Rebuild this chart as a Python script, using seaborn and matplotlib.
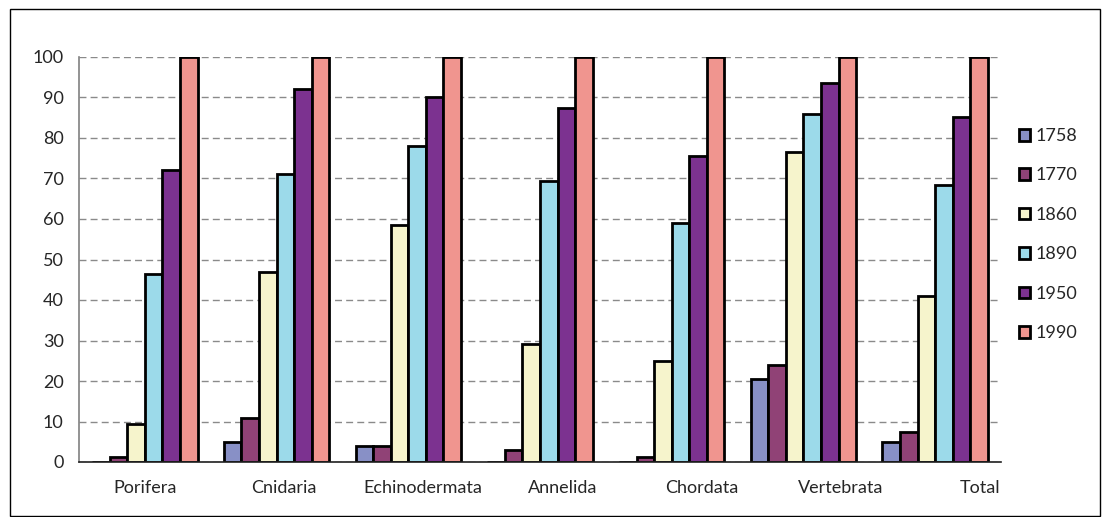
import pandas as pd
import numpy as np
import seaborn as sns
import matplotlib.pyplot as plt
from matplotlib.patches import Rectangle

# data
groups = ['Porifera', 'Cnidaria', 'Echinodermata', 'Annelida', 'Chordata', 'Vertebrata', 'Total']
years = ['1758', '1770', '1860', '1890', '1950', '1990']
v1758 = [0, 5.0, 4.0, 0, 0, 20.5, 4.9]
v1770 = [1.2, 10.9, 4.0, 3.0, 1.2, 24.0, 7.4]
v1860 = [9.3, 47.0, 58.5, 29.1, 25.0, 76.5, 41.0]
v1890 = [46.3, 71.1, 78.0, 69.3, 59.0, 86.0, 68.4]
v1950 = [72.0, 92.1, 90.0, 87.3, 75.5, 93.7, 85.2]
v1990 = [100, 100, 100, 100, 100, 100, 100]
colors = ['#8890C6', '#904276', '#F6F4CC', '#9CDAEA', '#7C3290', '#F0958F']

rows = []
for yr, vals in zip(years, [v1758, v1770, v1860, v1890, v1950, v1990]):
    for g, v in zip(groups, vals):
        rows.append({'group': g, 'year': yr, 'value': v})
df = pd.DataFrame(rows)

sns.set_style('white')
plt.rcParams['font.family'] = ['Lato', 'DejaVu Sans']

fig = plt.figure(figsize=(11.02, 5.17), dpi=100)
ax = fig.add_axes([79/1102, 1-462/517, 922/1102, 405/517])

sns.barplot(data=df, x='group', y='value', hue='year', palette=colors,
            edgecolor='black', linewidth=2, saturation=1, width=0.8, ax=ax)

ax.set_ylim(0, 100)
ax.set_xlim(-0.5, len(groups) - 0.5)
ax.set_yticks(range(0, 101, 10))
ax.yaxis.grid(True, linestyle=(0, (5, 3)), color='#8a8a8a', linewidth=1)
ax.set_axisbelow(True)
ax.tick_params(axis='y', labelsize=13, length=5, width=1, color='#808080', direction='out', pad=6)

# category labels (Excel spreads them slightly right)
n = len(groups)
ax.set_xticks([i + 0.057 * i for i in range(n)])
ax.set_xticklabels(groups, fontsize=13)
ax.tick_params(axis='x', length=0, pad=13)
ax.set_xticks(np.arange(-0.5, n, 1.0), minor=True)
ax.tick_params(axis='x', which='minor', length=9, width=1, direction='inout', color='#303030')

ax.set_xlabel('')
ax.set_ylabel('')
for s in ['top', 'right']:
    ax.spines[s].set_visible(False)
ax.spines['left'].set_color('#808080')
ax.spines['left'].set_linewidth(1.2)
ax.spines['bottom'].set_color('#202020')
ax.spines['bottom'].set_linewidth(1.2)

leg = ax.legend(loc='upper left', bbox_to_anchor=(1010/1102, 1-119/517),
                bbox_transform=fig.transFigure, frameon=False, fontsize=13,
                handlelength=0.62, handleheight=0.62, handletextpad=0.3,
                labelspacing=1.3, borderpad=0)
for h in leg.legend_handles:
    h.set_linewidth(2)
    h.set_edgecolor('black')

fig.patches.append(Rectangle((10/1102, 0.002), 1090/1102, 1-9/517-0.002,
                             transform=fig.transFigure, fill=False,
                             edgecolor='black', linewidth=1))

fig.savefig('out.png', dpi=100)
